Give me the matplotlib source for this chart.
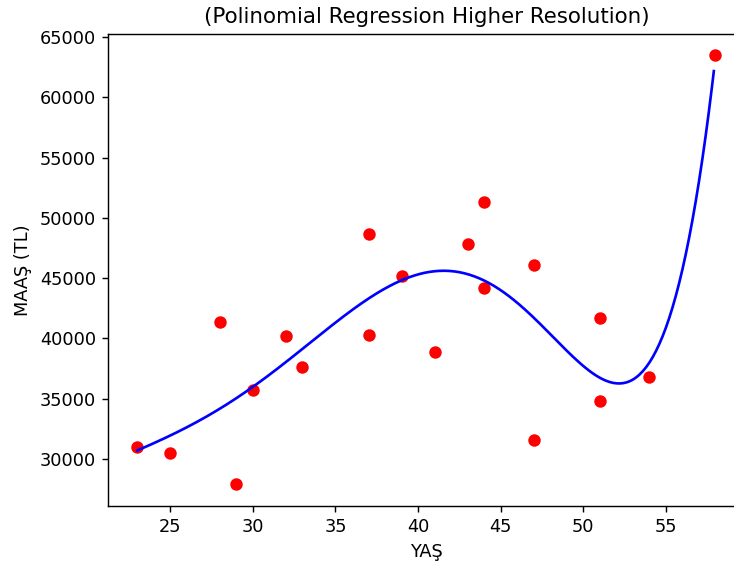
import numpy as np
import matplotlib
matplotlib.use("Agg")
import matplotlib.pyplot as plt

age = [23, 25, 28, 29, 30, 32, 33, 37, 37, 39, 41, 43, 44, 44, 47, 47, 51, 51, 54, 58]
salary = [31000, 30500, 41400, 27900, 35700, 40200, 37600, 48700, 40300, 45200,
          38900, 47800, 51300, 44200, 46100, 31600, 41700, 34800, 36800, 63500]
degree = 6

DPI = 128
fig = plt.figure(figsize=(734 / DPI, 567 / DPI), dpi=DPI)
ax = fig.add_axes([108.3 / 734, 1 - 505.7 / 567, (744.4 - 108.3) / 734, (505.7 - 33.7) / 567])

x = np.array(age, dtype=float)
y = np.array(salary, dtype=float)
x_grid = np.arange(x.min(), x.max(), 0.1)
coef = np.polyfit(x, y, degree)

ax.scatter(age, salary, color="red")
ax.plot(x_grid, np.polyval(coef, x_grid), color="blue")

ax.set_title("(Polinomial Regression Higher Resolution)")
ax.set_xlabel("YAŞ")
ax.set_ylabel("MAAŞ (TL)")

fig.savefig("out.png", dpi=DPI)
